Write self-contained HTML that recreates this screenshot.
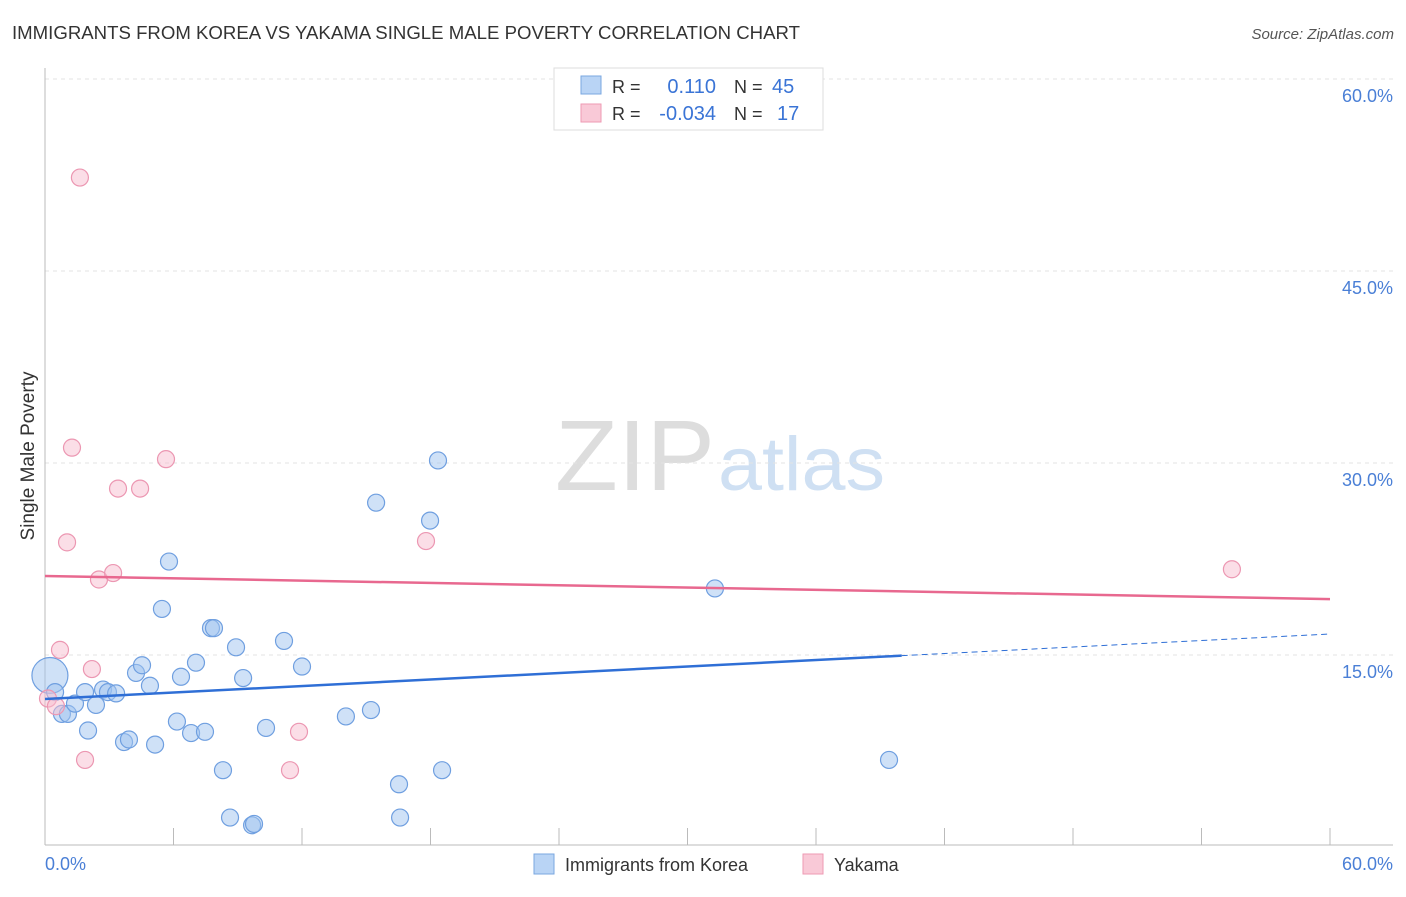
<!DOCTYPE html>
<html><head><meta charset="utf-8"><style>
body{margin:0;background:#fff;font-family:"Liberation Sans",sans-serif}
svg text{font-family:"Liberation Sans",sans-serif}
</style></head><body>
<svg id="chart" width="1406" height="892">
<text x="12" y="39" font-size="18" fill="#333" textLength="788" lengthAdjust="spacingAndGlyphs">IMMIGRANTS FROM KOREA VS YAKAMA SINGLE MALE POVERTY CORRELATION CHART</text>
<text x="1394" y="39" font-size="15" fill="#555" font-style="italic" text-anchor="end">Source: ZipAtlas.com</text>
<text x="555" y="490" font-size="100" fill="#ddd" textLength="160" lengthAdjust="spacingAndGlyphs" font-family="Liberation Serif">ZIP</text>
<text x="718" y="490" font-size="76" fill="#cfe0f3" textLength="167" lengthAdjust="spacingAndGlyphs">atlas</text>
<g id="grid"></g>
<g id="axes"></g>
<g id="marks"></g>
<text transform="translate(34,456) rotate(-90)" font-size="19" fill="#333" text-anchor="middle">Single Male Poverty</text>
<text x="45" y="870" font-size="18" fill="#4a7fd6">0.0%</text>
<text x="1393" y="870" font-size="18" fill="#4a7fd6" text-anchor="end">60.0%</text>
<g>
<rect x="554" y="68" width="269" height="62" fill="#fff" stroke="#ddd"/>
<rect x="581" y="76" width="20" height="18" fill="#b9d4f5" stroke="#7aa7e0"/>
<rect x="581" y="104" width="20" height="18" fill="#f9c9d7" stroke="#ee9ab3"/>
<text x="612" y="93" font-size="18" fill="#333">R =</text>
<text x="716" y="93" font-size="20" fill="#3a74d6" text-anchor="end">0.110</text>
<text x="734" y="93" font-size="18" fill="#333">N =</text>
<text x="772" y="93" font-size="20" fill="#3a74d6">45</text>
<text x="612" y="120" font-size="18" fill="#333">R =</text>
<text x="716" y="120" font-size="20" fill="#3a74d6" text-anchor="end">-0.034</text>
<text x="734" y="120" font-size="18" fill="#333">N =</text>
<text x="777" y="120" font-size="20" fill="#3a74d6">17</text>
</g>
<g>
<rect x="534" y="854" width="20" height="20" fill="#b9d4f5" stroke="#7aa7e0"/>
<text x="565" y="871" font-size="18" fill="#333">Immigrants from Korea</text>
<rect x="803" y="854" width="20" height="20" fill="#f9c9d7" stroke="#ee9ab3"/>
<text x="834" y="871" font-size="18" fill="#333">Yakama</text>
</g>
</svg>
<script>
const yTicks=[15,30,45,60];
const yTickLabels=["15.0%","30.0%","45.0%","60.0%"];
const xTicks=[0,6,12,18,24,30,36,42,48,54,60];
const koreaX=[0.23,0.47,0.79,1.07,1.40,1.87,2.01,2.38,2.71,2.94,3.32,3.69,3.92,4.25,4.53,4.90,5.14,5.46,5.79,6.16,6.35,6.82,7.05,7.47,7.75,7.89,8.31,8.64,8.92,9.25,9.67,9.76,10.32,11.16,12.0,14.05,15.22,15.46,16.53,16.58,17.98,18.35,18.54,31.28,39.41];
const koreaY=[13.4,12.1,10.4,10.4,11.2,12.1,9.1,11.1,12.3,12.1,12.0,8.2,8.4,13.6,14.2,12.6,8.0,18.6,22.3,9.8,13.3,8.9,14.4,9.0,17.1,17.1,6.0,2.3,15.6,13.2,1.7,1.8,9.3,16.1,14.1,10.2,10.7,26.9,4.9,2.3,25.5,30.2,6.0,20.2,6.8];
const yakamaX=[0.14,0.51,0.70,1.03,1.26,1.63,1.87,2.19,2.52,3.18,3.41,4.44,5.65,11.44,11.86,17.79,55.42];
const yakamaY=[11.6,11.0,15.4,23.8,31.2,52.3,6.8,13.9,20.9,21.4,28.0,28.0,30.3,6.0,9.0,23.9,21.7];
const koreaTrend=[11.56,16.64];
const koreaSolidEnd=40;
const yakamaTrend=[21.17,19.37];
const NS='http://www.w3.org/2000/svg';
const sx=v=>45+v*(1285/60);
const sy=v=>847-v*12.8;
function mk(tag,attrs,parent){const e=document.createElementNS(NS,tag);for(const k in attrs)e.setAttribute(k,attrs[k]);document.getElementById(parent).appendChild(e);return e;}
yTicks.forEach((t,i)=>{
 const g=mk('line',{x1:45,x2:1393,y1:sy(t),y2:sy(t),stroke:'#e3e3e3','stroke-dasharray':'4,4'},'grid');
 
 
 const l=mk('text',{x:1393,y:sy(t)+23,'font-size':18,fill:'#4a7fd6','text-anchor':'end'},'grid');
 l.textContent=yTickLabels[i];
 
 
});
const ya=mk('line',{x1:45,x2:45,y1:68,y2:845,stroke:'#bbb'},'axes');


const xa=mk('line',{x1:45,x2:1393,y1:845,y2:845,stroke:'#bbb'},'axes');


xTicks.forEach(t=>{
 const k=mk('line',{x1:sx(t),x2:sx(t),y1:828,y2:845,stroke:'#bbb'},'axes');
 
 
});
koreaX.forEach((x,i)=>{
 const c=mk('circle',{cx:sx(x),cy:sy(koreaY[i]),r:i===0?18:8.5,fill:'rgba(160,196,240,0.5)',stroke:'#6f9fe0','stroke-width':1.2},'marks');
 
 
});
yakamaX.forEach((x,i)=>{
 const c=mk('circle',{cx:sx(x),cy:sy(yakamaY[i]),r:8.5,fill:'rgba(248,190,208,0.5)',stroke:'#ec97b2','stroke-width':1.2},'marks');
 
 
});
const kAt=x=>koreaTrend[0]+(koreaTrend[1]-koreaTrend[0])*x/60;
const t1=mk('line',{x1:sx(0),y1:sy(kAt(0)),x2:sx(koreaSolidEnd),y2:sy(kAt(koreaSolidEnd)),stroke:'#2f6fd6','stroke-width':2.5},'marks');


const t2=mk('line',{x1:sx(koreaSolidEnd),y1:sy(kAt(koreaSolidEnd)),x2:sx(60),y2:sy(kAt(60)),stroke:'#2f6fd6','stroke-width':1,'stroke-dasharray':'6,4'},'marks');


const t3=mk('line',{x1:sx(0),y1:sy(yakamaTrend[0]),x2:sx(60),y2:sy(yakamaTrend[1]),stroke:'#e8688f','stroke-width':2.5},'marks');


</script>
</body></html>
